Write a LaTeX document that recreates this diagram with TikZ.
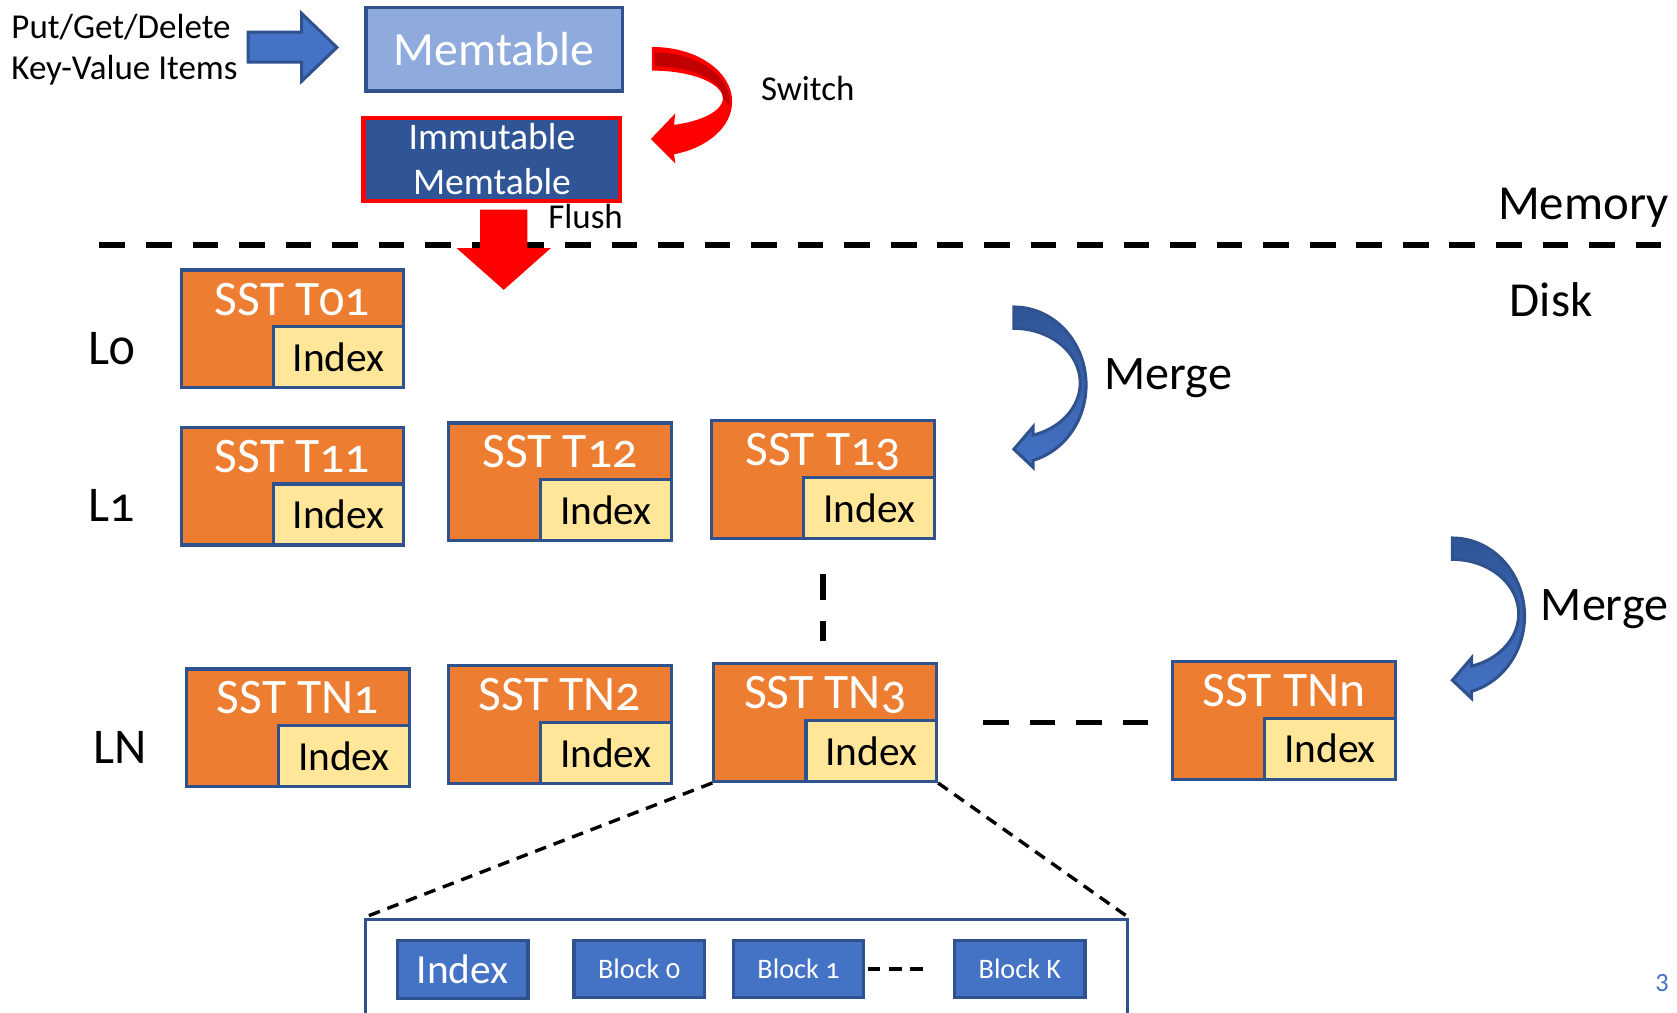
\documentclass[tikz,border=0pt]{standalone}
\usepackage{fontspec}
\setmainfont{Carlito}[Numbers=OldStyle]
\usetikzlibrary{calc}

\definecolor{sstorange}{HTML}{ED7D31}
\definecolor{idxyellow}{HTML}{FFE699}
\definecolor{bordblue}{HTML}{2F528F}
\definecolor{memfill}{HTML}{8FAADC}
\definecolor{immfill}{HTML}{2F5597}
\definecolor{blockfill}{HTML}{4472C4}
\definecolor{arrowred}{HTML}{FF0000}
\definecolor{arrowdark}{HTML}{C00000}

% one SST file: orange body, yellow index corner, white title
\newcommand\sstbox[4]{%
  \node[sst] (#1) at (#2,#3) {};
  \node[idx] (#1i) at (#1.south east) {Index};
  \node[ssttitle] (#1t) at ([yshift=-0.435cm]#1.north) {#4};
}

% curved "merge" arrow, drawn at an offset
\newcommand\mergearrow[2]{%
  \path[mergearrowstyle, shift={(#1,#2)}]
    (948,287) arc[start angle=-90, end angle=74.5, x radius=67.5, y radius=73]
    -- (966,437) -- (948,420) -- (966,399) -- (966,406.8)
    arc[start angle=73.1, end angle=-90, x radius=62, y radius=51] -- cycle;
}

\begin{document}
\begin{tikzpicture}[x=0.01cm, y=-0.01cm,
  sst/.style={draw=bordblue, fill=sstorange, line width=0.85pt,
    minimum width=2.08cm, minimum height=1.10cm, inner sep=0pt, anchor=north west},
  idx/.style={draw=bordblue, fill=idxyellow, line width=0.85pt,
    minimum width=1.22cm, minimum height=0.57cm, inner sep=0pt, anchor=south east,
    font=\fontsize{11}{13}\selectfont},
  ssttitle/.style={text=white, anchor=base, inner sep=0pt, font=\fontsize{13.2}{15}\selectfont},
  lvl/.style={anchor=base west, inner sep=0pt, font=\fontsize{13.3}{16}\selectfont},
  note/.style={anchor=base west, inner sep=0pt, font=\fontsize{9.3}{11}\selectfont},
  bigword/.style={anchor=base west, inner sep=0pt, font=\fontsize{13}{15}\selectfont},
  blk/.style={draw=bordblue, fill=blockfill, line width=0.9pt,
    minimum width=1.22cm, minimum height=0.53cm, inner sep=0pt, anchor=north west,
    text=white, font=\fontsize{7.5}{9}\selectfont},
  bolddash/.style={line width=1.42pt, dash pattern=on 0.24cm off 0.195cm},
  zoomdash/.style={line width=0.9pt, dash pattern=on 0.11cm off 0.075cm},
  mergearrowstyle/.style={draw=bordblue, line width=0.8pt, top color=immfill, bottom color=blockfill},
]
\useasboundingbox (0,0) rectangle (1568,947);

% ---- memory side ----
\node[note] (putget) at (10,36) {Put/Get/Delete};
\node[note] (kvitems) at (10,74) {Key-Value Items};

\filldraw[fill=blockfill, draw=bordblue, line width=0.8pt]
  (232,30) -- (282,30) -- (282,12.5) -- (315,44.3) -- (282,76) -- (282,58) -- (232,58) -- cycle;

\node[draw=bordblue, fill=memfill, line width=1pt, minimum width=2.40cm, minimum height=0.78cm,
  inner sep=0pt, text=white, font=\fontsize{12.7}{15}\selectfont] (mem) at (462,46) {Memtable};

\node[draw=arrowred, fill=immfill, line width=1.1pt, minimum width=2.40cm, minimum height=0.78cm,
  inner sep=0pt, text=white, align=center, font=\fontsize{10}{12}\selectfont] (imm) at (460,149)
  {Immutable\\Memtable};

% switch arrow (red ribbon)
\filldraw[fill=arrowred, draw=arrowred, line width=0.6pt]
  (610.5,45) arc[start angle=-90, end angle=75.3, x radius=73, y radius=50]
  -- (630,150) -- (610,130) -- (630,109) -- (629,117.9)
  arc[start angle=73.8, end angle=-90, x radius=66.5, y radius=27] -- cycle;
\fill[arrowdark]
  (612,49) arc[start angle=-90, end angle=5, x radius=70, y radius=46]
  -- (676,92) arc[start angle=0, end angle=-90, x radius=64, y radius=30] -- cycle;

\node[note] (switch) at (711,93.5) {Switch};
\node[note] (flush) at (512,214) {Flush};

% memory / disk boundary
\draw[bolddash] (93,229) -- (1568,229);

% flush arrow
\fill[arrowred] (449,196) -- (493,196) -- (493,232) -- (515,232) -- (471,271)
  -- (427,232) -- (449,232) -- cycle;

\node[bigword] (memory) at (1400,205) {Memory};
\node[bigword] (disk) at (1411,296) {Disk};

% ---- levels ----
\node[lvl] (lzero) at (82,341) {L0};
\node[lvl] (lone) at (82,488) {L1};
\node[lvl] (lnn) at (87,714) {LN};

\sstbox{t01}{168}{251}{SST T01}
\sstbox{t11}{168}{398}{SST T11}
\sstbox{t12}{418}{394}{SST T12}
\sstbox{t13}{664}{392}{SST T13}
\sstbox{tn1}{173}{624}{SST TN1}
\sstbox{tn2}{418}{621}{SST TN2}
\sstbox{tn3}{666}{619}{SST TN3}
\sstbox{tnn}{1095}{617}{SST TNn}

\draw[bolddash, shorten <=0.32cm, shorten >=0.2cm] (t13.south) -- (t13.south |- tn3.north);
\draw[bolddash, shorten <=0.42cm, shorten >=0.22cm] (tn3.east) -- (tn3.east -| tnn.west);

% merge arrows
\mergearrow{0}{0}
\mergearrow{410}{216}
\node[bigword, font=\fontsize{12.8}{15}\selectfont] (merge1) at (1032,364) {Merge};
\node[bigword, font=\fontsize{12.8}{15}\selectfont] (merge2) at (1440,580) {Merge};

% ---- inside one SST file ----
\node[draw=bordblue, line width=0.9pt, minimum width=7.12cm, minimum height=1.3cm,
  inner sep=0pt, anchor=north west] (detail) at (340,858) {};
\draw[zoomdash] (tn3.south west) -- (detail.north west);
\draw[zoomdash] (tn3.south east) -- (detail.north east);

\node[blk, minimum height=0.54cm, font=\fontsize{11}{13}\selectfont] (bidx) at (370,878) {Index};
\node[blk] (b0) at (535,878) {Block 0};
\node[blk] (b1) at (684,878) {Block 1};
\node[blk] (bk) at (891,878) {Block K};
\draw[line width=1.2pt, dash pattern=on 0.12cm off 0.08cm, shorten <=0.02cm, shorten >=0.2cm]
  (b1.east) -- (bk.west);

\node[text=blockfill, inner sep=0pt, font=\fontsize{7}{8}\selectfont\addfontfeatures{Numbers=Lining}]
  (pagenum) at (1554,919) {3};
\end{tikzpicture}
\end{document}
